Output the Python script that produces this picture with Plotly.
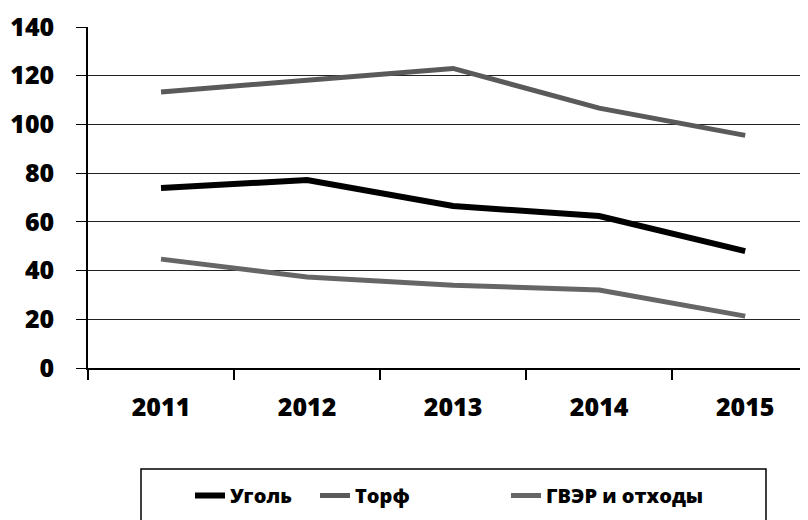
import plotly.graph_objects as go

years = ["2011", "2012", "2013", "2014", "2015"]
coal = [73.9, 77.2, 66.5, 62.4, 48.0]
peat = [113.3, 118.0, 123.0, 106.7, 95.5]
waste = [44.7, 37.4, 34.0, 32.0, 21.3]
y_ticks = [0, 20, 40, 60, 80, 100, 120, 140]

FONT = "Open Sans"
W = 800

# page body has an 8px margin; target coordinates are window pixels
OFF = 8
PL, PT, PB, PW, PH = 88, 27, 368, 720, 341

def px_x(p):
    return (p - PL) / PW

def px_y(p):
    return (PB - p) / PH

fig = go.Figure()
fig.add_trace(go.Scatter(x=years, y=coal, name="Уголь", mode="lines",
                         line=dict(color="#000000", width=6), legend="legend"))
fig.add_trace(go.Scatter(x=years, y=peat, name="Торф", mode="lines",
                         line=dict(color="#5a5a5a", width=5), legend="legend2"))
fig.add_trace(go.Scatter(x=years, y=waste, name="ГВЭР и отходы", mode="lines",
                         line=dict(color="#666666", width=5), legend="legend3"))

fig.add_shape(type="rect", xref="paper", yref="paper",
              x0=px_x(141), x1=px_x(766), y0=px_y(540), y1=px_y(469),
              line=dict(color="#000000", width=1.5), fillcolor="white",
              layer="below")

def leg(xpix):
    return dict(orientation="h", x=px_x(xpix), xanchor="left",
                y=px_y(476), yanchor="top",
                borderwidth=0, bgcolor="rgba(0,0,0,0)",
                font=dict(size=20, family=FONT, weight=800, color="#000"),
                itemwidth=30)

fig.update_layout(
    width=W, height=512,
    margin=dict(l=PL - OFF, r=0, t=PT - OFF, b=512 - (PB - OFF)),
    paper_bgcolor="white", plot_bgcolor="white",
    font=dict(family=FONT, size=25, color="#000000", weight=800),
    showlegend=True,
    legend=leg(190), legend2=leg(315), legend3=leg(506),
    xaxis=dict(type="category", range=[-0.5, 4.43], tickson="boundaries",
               ticks="outside", ticklen=10, tickcolor="#000", tickwidth=1.5,
               showline=True, linecolor="#000", linewidth=1.5,
               showgrid=False, tickfont=dict(size=25), ticklabelstandoff=16,
               automargin=False),
    yaxis=dict(range=[0, 140], tickvals=y_ticks, showgrid=True,
               gridcolor="#222222", gridwidth=1, showline=True,
               linecolor="#000", linewidth=1.5, ticks="outside", ticklen=10,
               tickcolor="#000", zeroline=False, tickfont=dict(size=25),
               ticklabelstandoff=17, automargin=False),
)

fig.write_html("out.html")
